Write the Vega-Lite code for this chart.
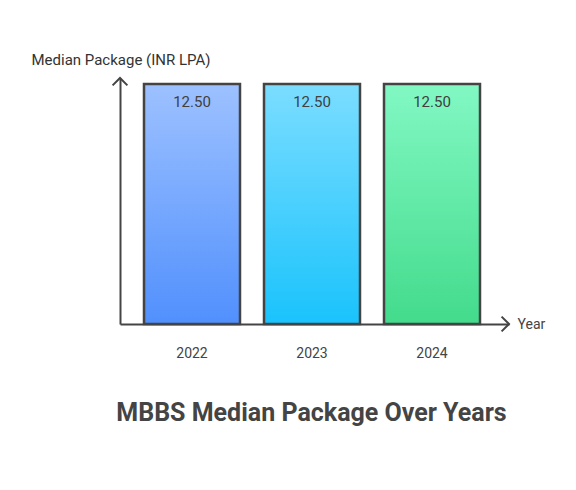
{
  "$schema": "https://vega.github.io/schema/vega-lite/v6.json",
  "autosize": "none",
  "width": 389,
  "height": 246,
  "padding": {"left": 120, "top": 78, "right": 67, "bottom": 166},
  "background": "white",
  "view": {"stroke": null},
  "data": {
    "values": [
      {"year": "2022", "value": 12.5},
      {"year": "2023", "value": 12.5},
      {"year": "2024", "value": 12.5}
    ]
  },
  "title": {
    "text": "MBBS Median Package Over Years",
    "orient": "bottom",
    "anchor": "middle",
    "offset": 41,
    "dx": -3,
    "fontSize": 25,
    "fontWeight": "bold",
    "font": "Roboto",
    "color": "#444444"
  },
  "encoding": {
    "x": {
      "field": "year",
      "type": "nominal",
      "scale": {"paddingInner": 0.2, "paddingOuter": 0.2208, "align": 0.4528},
      "axis": {
        "title": "Year",
        "titleAngle": 0,
        "titleX": 397,
        "titleY": 0,
        "titleAlign": "left",
        "titleBaseline": "middle",
        "titleFont": "Roboto",
        "titleFontSize": 14,
        "titleFontWeight": "normal",
        "titleColor": "#444444",
        "labelAngle": 0,
        "labelFont": "Roboto",
        "labelFontSize": 14,
        "labelColor": "#444444",
        "labelPadding": 22,
        "ticks": false,
        "domainColor": "#444444",
        "domainWidth": 2
      }
    },
    "y": {
      "field": "value",
      "type": "quantitative",
      "scale": {"domain": [0, 12.8125], "nice": false, "zero": true},
      "axis": {
        "title": "Median Package (INR LPA)",
        "titleAngle": 0,
        "titleX": -89,
        "titleY": -14,
        "titleAlign": "left",
        "titleBaseline": "alphabetic",
        "titleFont": "Roboto",
        "titleFontSize": 15,
        "titleFontWeight": "normal",
        "titleColor": "#333333",
        "labels": false,
        "ticks": false,
        "grid": false,
        "domainColor": "#444444",
        "domainWidth": 2
      }
    }
  },
  "layer": [
    {
      "mark": {"type": "bar", "stroke": "#444444", "strokeWidth": 2.5, "cornerRadius": 0},
      "encoding": {
        "fill": {
          "condition": [
            {
              "test": "datum.year === '2022'",
              "value": {
                "gradient": "linear", "x1": 0, "y1": 0, "x2": 0, "y2": 1,
                "stops": [{"offset": 0, "color": "#9DC1FF"}, {"offset": 1, "color": "#5190FD"}]
              }
            },
            {
              "test": "datum.year === '2023'",
              "value": {
                "gradient": "linear", "x1": 0, "y1": 0, "x2": 0, "y2": 1,
                "stops": [{"offset": 0, "color": "#7BDDFF"}, {"offset": 1, "color": "#1AC3FC"}]
              }
            }
          ],
          "value": {
            "gradient": "linear", "x1": 0, "y1": 0, "x2": 0, "y2": 1,
            "stops": [{"offset": 0, "color": "#82F8C3"}, {"offset": 1, "color": "#43DB8C"}]
          }
        }
      }
    },
    {
      "mark": {"type": "text", "baseline": "middle", "dy": 18, "font": "Roboto", "fontSize": 15, "color": "#404040"},
      "encoding": {"text": {"field": "value", "type": "quantitative", "format": ".2f"}}
    },
    {
      "transform": [{"filter": "datum.year === '2022'"}],
      "mark": {"type": "point", "shape": "M -1 1 L 0 0 L 1 1", "filled": false, "color": "#444444", "opacity": 1, "strokeWidth": 2, "size": 220},
      "encoding": {
        "x": {"value": 0},
        "y": {"datum": 12.8125, "type": "quantitative"}
      }
    },
    {
      "transform": [{"filter": "datum.year === '2022'"}],
      "mark": {"type": "point", "shape": "M -1 -1 L 0 0 L -1 1", "filled": false, "color": "#444444", "opacity": 1, "strokeWidth": 2, "size": 220},
      "encoding": {
        "x": {"value": 389},
        "y": {"datum": 0, "type": "quantitative"}
      }
    }
  ]
}
